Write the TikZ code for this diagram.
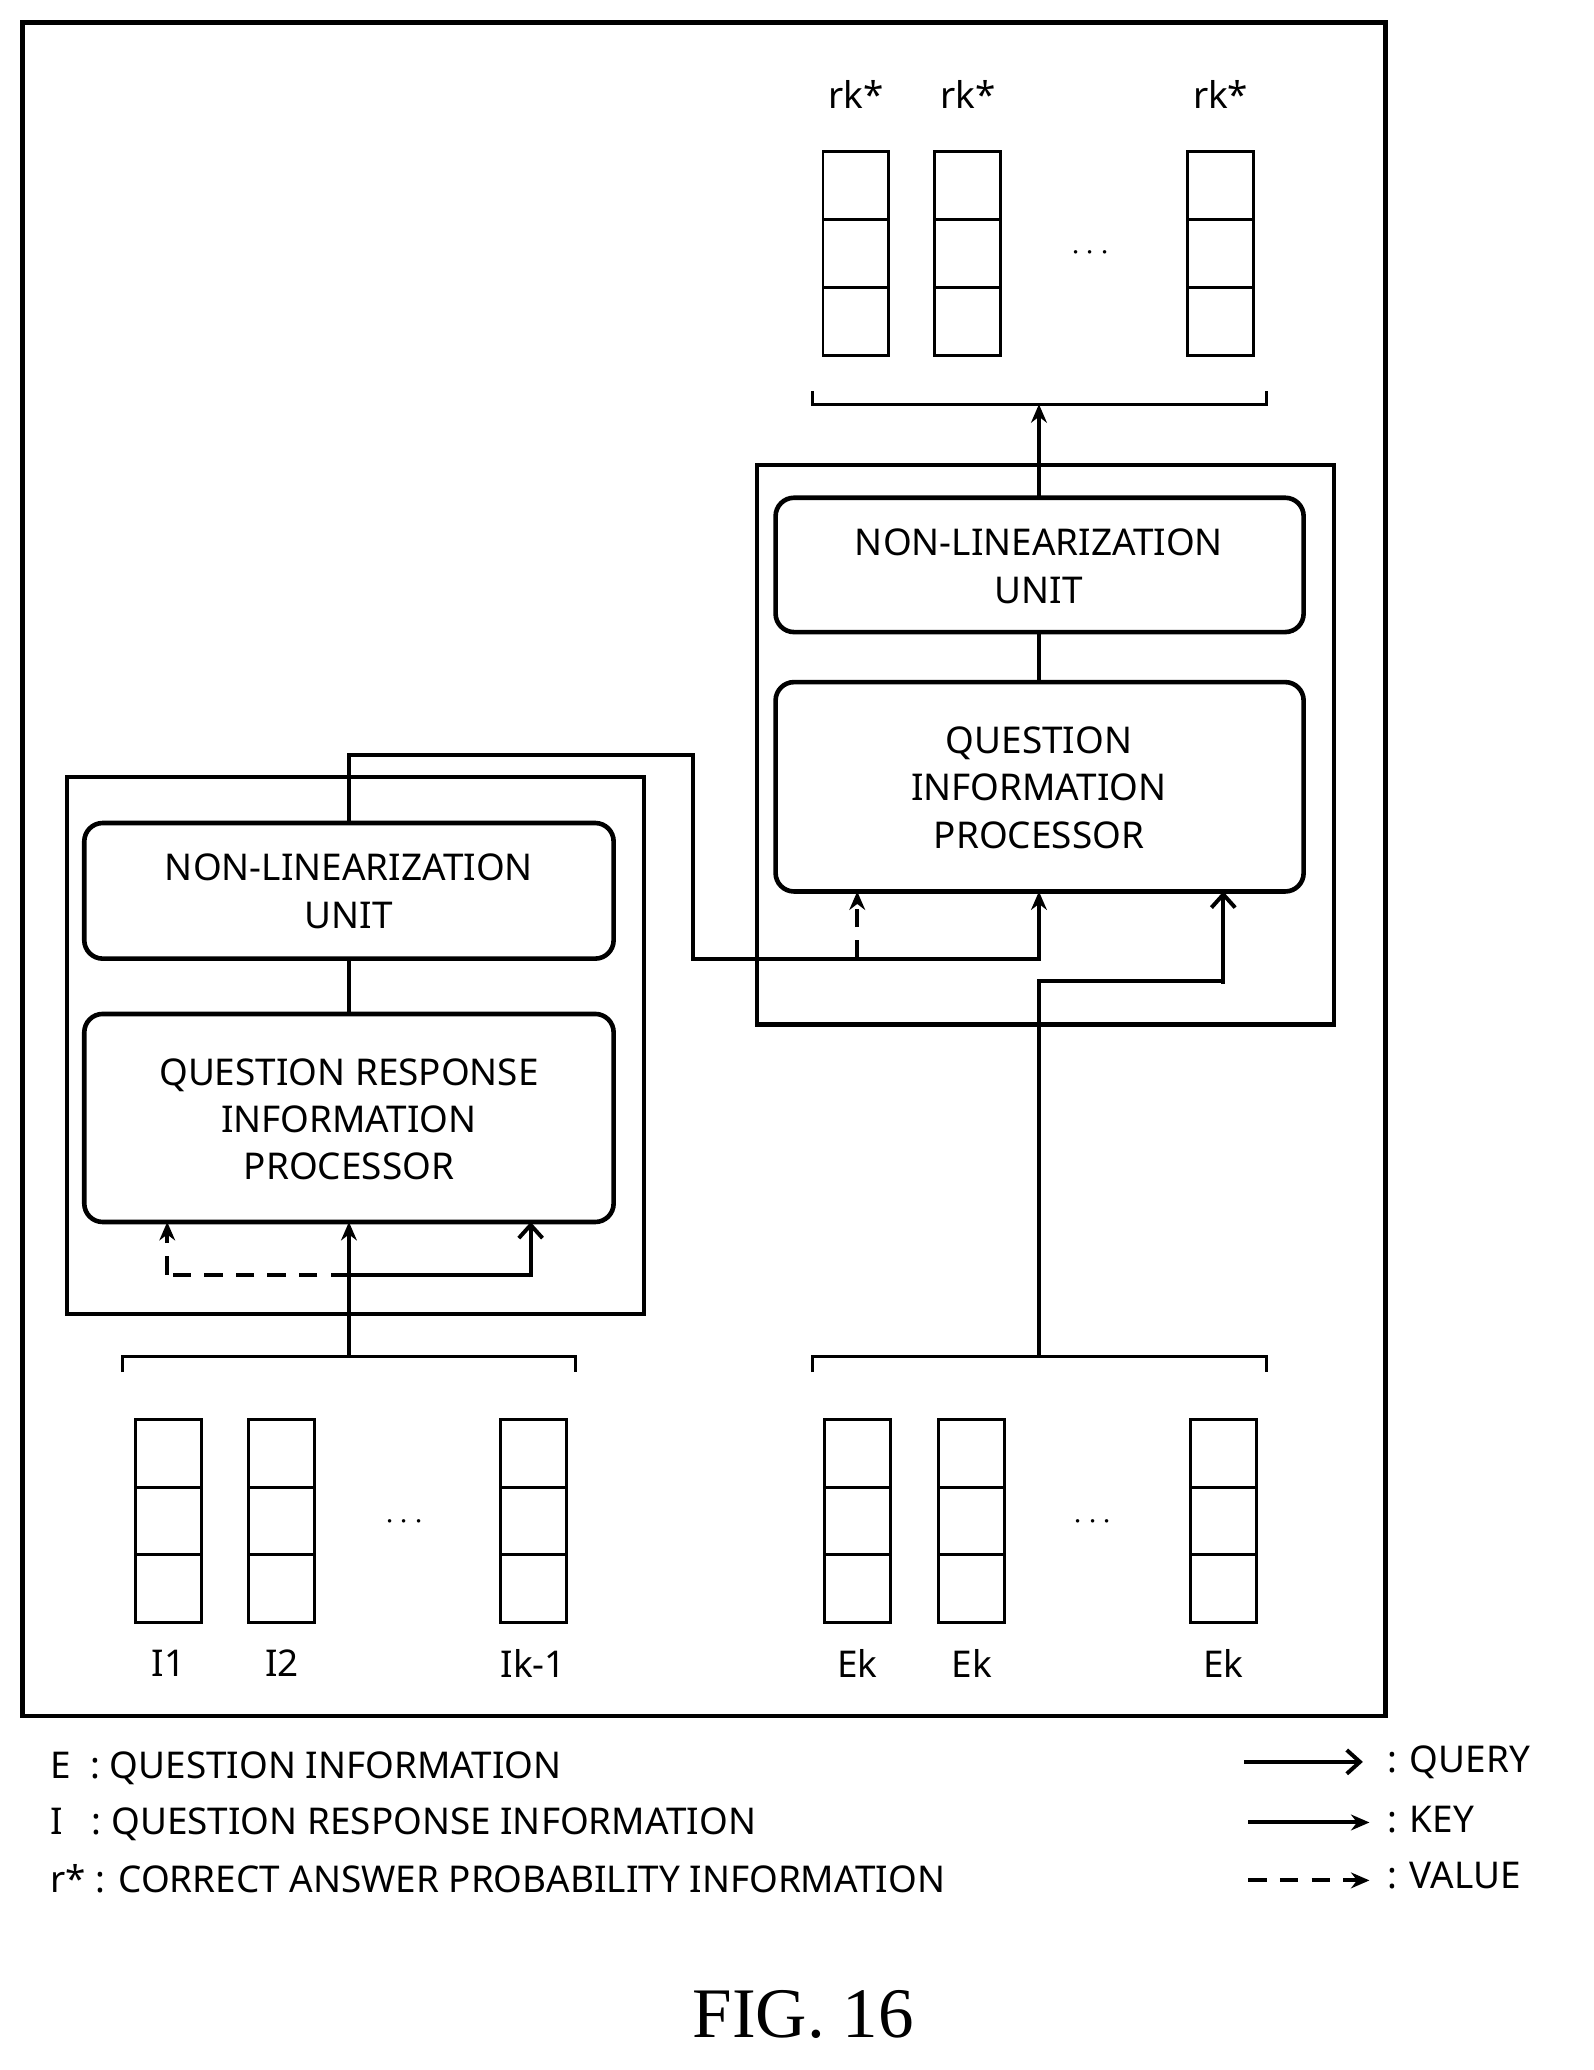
\documentclass[tikz,border=0pt]{standalone}
\usepackage{fontspec}
\setmainfont{Noto Sans}
\usetikzlibrary{arrows.meta}
\begin{document}
\begin{tikzpicture}[x=1pt,y=-1pt,
  frame/.style={line width=3.5pt},
  rbox/.style={draw,line width=3.5pt,rounded corners=14pt},
  lbl/.style={font=\fontsize{28}{36}\selectfont\bfseries,align=center},
  cell/.style={draw,line width=2.2pt},
  wire/.style={line width=3pt},
  key/.style={wire,-{Stealth[length=14pt,width=12pt]}},
  query/.style={wire,-{Straight Barb[length=10pt,width=18pt]}},
  value/.style={wire,dash pattern=on 14pt off 10pt,-{Stealth[length=14pt,width=12pt]}}]
\useasboundingbox (0,0) rectangle (1210,1572);
\fill[white] (0,0) rectangle (1210,1572);
\draw[frame] (17,17) rectangle (1052,1303);
% top outputs
\foreach \x/\n in {650/a,735/b,927/c}{
  \node[lbl] (r\n) at (\x,72) {rk*};
  \foreach \k in {0,1,2}{\draw[cell] (\x-25,115+\k*51.7) rectangle (\x+25,166.7+\k*51.7);}
}
\node[lbl] (tdots) at (828,192) {$\cdots$};
\coordinate (tb) at (789,307);
\draw[line width=2.5pt] (617,297) -- (617,307) -- (962,307) -- (962,297);
% right box
\draw[frame] (575,353) rectangle (1013,778);
\draw[rbox] (589,378) rectangle (990,480);
\node[lbl] (nlr) at (789,430) {NON-LINEARIZATION\\UNIT};
\draw[rbox] (589,518) rectangle (990,677);
\node[lbl] (qip) at (789,598) {QUESTION\\INFORMATION\\PROCESSOR};
\coordinate (nlrT) at (789,378);
\coordinate (nlrB) at (789,480);
\coordinate (qipT) at (789,518);
\draw[key] (nlrT) -- (tb);
\draw[wire] (nlrB) -- (qipT);
% left box
\draw[frame] (51,590) rectangle (489,998);
\draw[rbox] (64,625) rectangle (466,728);
\node[lbl] (nll) at (265,677) {NON-LINEARIZATION\\UNIT};
\draw[rbox] (64,770) rectangle (466,928);
\node[lbl] (qrip) at (265,850) {QUESTION RESPONSE\\INFORMATION\\PROCESSOR};
\coordinate (nllT) at (265,625);
\coordinate (nllB) at (265,728);
\coordinate (qripT) at (265,770);
\draw[wire] (nllB) -- (qripT);
% cross connection
\coordinate (vsplit) at (651,728);
\draw[key] (nllT) -- (265,573) -- (526,573) -- (526,728) -- (789,728) -- (789,677);
\draw[value] (vsplit) -- (651,677);
% Ek to QIP
\coordinate (eb) at (789,1030);
\draw[wire] (eb) -- (789,745) -- (929,745);
\draw[query] (929,747) -- (929,677);
% left inputs
\coordinate (ib) at (265,1030);
\draw[key] (ib) -- (265,928);
\draw[wire,dash pattern=on 14pt off 10pt] (265,968) -- (127,968);
\draw[value] (127,968) -- (127,928);
\draw[wire] (265,968) -- (403,968);
\draw[query] (403,970) -- (403,928);
% braces
\draw[line width=2.5pt] (93,1042) -- (93,1030) -- (437,1030) -- (437,1042);
\draw[line width=2.5pt] (617,1042) -- (617,1030) -- (962,1030) -- (962,1042);
% bottom stacks
\foreach \x/\t/\n in {128/I1/a,214/I2/b,405/Ik-1/c,651/Ek/d,738/Ek/e,929/Ek/f}{
  \foreach \k in {0,1,2}{\draw[cell] (\x-25,1078+\k*51.3) rectangle (\x+25,1129.3+\k*51.3);}
  \node[lbl] (b\n) at (\x,1263) {\t};
}
\node[lbl] (bdl) at (307,1156) {$\cdots$};
\node[lbl] (bdr) at (830,1156) {$\cdots$};
% legend
\node[lbl,anchor=west] (le) at (35,1343) {E\ \ : QUESTION INFORMATION};
\node[lbl,anchor=west] (li) at (35,1385) {I\ \ \ : QUESTION RESPONSE INFORMATION};
\node[lbl,anchor=west] (lr) at (35,1427) {r* : CORRECT ANSWER PROBABILITY INFORMATION};
\coordinate (q1) at (945,1338); \coordinate (q2) at (1035,1338);
\coordinate (k1) at (948,1384); \coordinate (k2) at (1040,1384);
\coordinate (v1) at (948,1428); \coordinate (v2) at (1040,1428);
\draw[query] (q1) -- (q2);
\draw[key] (k1) -- (k2);
\draw[value] (v1) -- (v2);
\node[lbl,anchor=west] (lq) at (1050,1338) {: QUERY};
\node[lbl,anchor=west] (lk) at (1050,1382) {: KEY};
\node[lbl,anchor=west] (lv) at (1050,1424) {: VALUE};
\node[font=\fontsize{54}{60}\selectfont\bfseries\rmfamily] (fig) at (610,1530) {\setmainfont{Liberation Serif}FIG. 16};
\end{tikzpicture}
\end{document}
